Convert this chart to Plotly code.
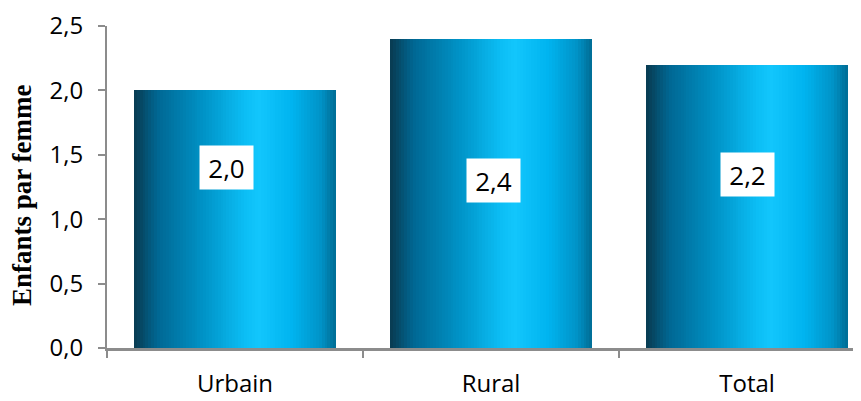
import plotly.graph_objects as go

categories = ["Urbain", "Rural", "Total"]
values = [2.0, 2.4, 2.2]
value_labels = ["2,0", "2,4", "2,2"]
y_tickvals = [0, 0.5, 1.0, 1.5, 2.0, 2.5]
y_ticktext = ["0,0", "0,5", "1,0", "1,5", "2,0", "2,5"]
y_title = "Enfants par femme"

# horizontal gradient stops across each bar (position, colour)
grad = [(0.0, (8, 58, 80)), (0.12, (0, 104, 148)), (0.35, (0, 148, 200)),
        (0.55, (12, 190, 245)), (0.62, (18, 198, 252)), (0.78, (0, 180, 240)),
        (0.92, (0, 148, 200)), (1.0, (0, 108, 148))]

def color_at(t):
    for (p0, c0), (p1, c1) in zip(grad[:-1], grad[1:]):
        if p0 <= t <= p1:
            f = (t - p0) / (p1 - p0) if p1 > p0 else 0
            c = [round(a + (b - a) * f) for a, b in zip(c0, c1)]
            return "rgb(%d,%d,%d)" % tuple(c)
    return "rgb(%d,%d,%d)" % grad[-1][1]

bar_w = 0.79
n = 70
step = bar_w / n
fig = go.Figure()
for k in range(n):
    t = (k + 0.5) / n
    fig.add_trace(go.Bar(
        x=categories, y=values,
        offset=-bar_w / 2 + k * step,
        width=step * 1.15 if k < n - 1 else step,
        marker=dict(color=color_at(t), line=dict(width=0)),
        showlegend=False, hoverinfo="skip",
    ))

label_y = [1.405, 1.297, 1.35]
label_dx = [-0.033, 0.01, 0.0]
for i, c in enumerate(categories):
    fig.add_annotation(
        x=i + label_dx[i], y=label_y[i], xref="x", yref="y",
        text=value_labels[i], showarrow=False,
        font=dict(family="Open Sans", size=26, color="black"),
        bgcolor="white", width=53, height=43, borderpad=0,
    )

# y-axis title as rotated annotation (placed slightly below centre like the reference)
fig.add_annotation(
    x=0, y=0.5, xref="paper", yref="paper", xanchor="center", yanchor="middle",
    xshift=-85, yshift=-8, textangle=-90, showarrow=False,
    text="<b>%s</b>" % y_title,
    font=dict(family="Liberation Serif", size=27, color="black"),
)

# page body has an 8px margin, so the figure is sized to the visible area
fig.update_layout(
    width=853, height=393,
    margin=dict(l=99, r=0, t=18, b=53),
    paper_bgcolor="white", plot_bgcolor="white",
    barmode="overlay", bargap=0,
    font=dict(family="Open Sans", size=24, color="black"),
)
fig.update_xaxes(
    type="category", range=[-0.5, 2.445],
    showline=True, linecolor="#8c8c8c", linewidth=3,
    ticks="outside", tickson="boundaries", ticklen=7, tickcolor="#8c8c8c", tickwidth=2,
    showgrid=False, tickfont=dict(size=24), ticklabelstandoff=12,
)
fig.update_yaxes(
    range=[0, 2.5], tickvals=y_tickvals, ticktext=y_ticktext,
    showline=True, linecolor="#8c8c8c", linewidth=2,
    ticks="outside", ticklen=7, tickcolor="#8c8c8c", tickwidth=2,
    showgrid=False, zeroline=False, tickfont=dict(size=24), ticklabelstandoff=10,
)

fig.write_html("out.html")
